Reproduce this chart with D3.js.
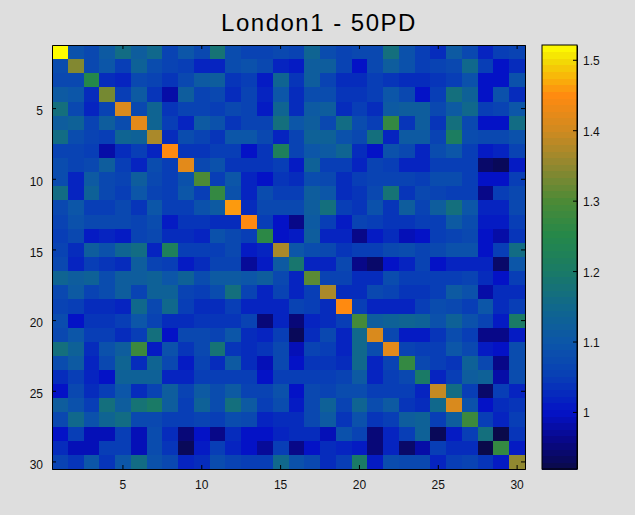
<!DOCTYPE html>
<html>
<head>
<meta charset="utf-8">
<script src="https://cdn.jsdelivr.net/npm/d3@7"></script>
<style>
html, body { margin: 0; padding: 0; background: #dedede; }
svg { display: block; }
</style>
</head>
<body>
<div id="my_dataviz"></div>
<script>
var titleText = "London1 - 50PD";
var indexLabels = d3.range(1, 31);
var axisTicks = [5, 10, 15, 20, 25, 30];
var barTicks = [1, 1.1, 1.2, 1.3, 1.4, 1.5];
var barRange = [0.919, 1.521];

// one row of the matrix per line
var matrix = [
[1.52,1.09,1.07,1.11,1.16,1.12,1.15,1.06,1.10,1.07,1.18,1.08,1.06,1.06,1.07,1.06,1.14,1.08,1.06,1.07,1.07,1.17,1.09,1.05,1.03,1.11,1.07,1.02,1.05,1.06],
[1.08,1.34,1.07,1.10,1.05,1.13,1.08,1.06,1.05,1.02,1.02,1.08,1.09,1.07,1.02,1.01,1.12,1.12,1.06,1.00,1.07,1.12,1.09,1.05,1.06,1.07,1.15,1.05,1.00,1.03],
[1.07,1.07,1.25,1.03,1.02,1.07,1.06,1.04,1.07,1.11,1.12,1.04,1.05,1.01,1.14,1.04,1.12,1.06,1.03,1.03,1.05,1.04,1.03,1.03,1.04,1.05,1.09,1.00,1.00,1.09],
[1.11,1.10,1.03,1.33,1.05,1.11,1.04,0.98,1.12,1.06,1.07,1.03,1.06,1.02,1.10,1.03,1.08,1.08,1.04,1.04,1.05,1.10,1.07,1.00,1.05,1.17,1.13,1.00,1.09,1.03],
[1.17,1.07,1.02,1.06,1.41,1.07,1.14,1.04,1.06,1.06,1.05,1.07,1.06,1.01,1.14,1.03,1.11,1.12,1.03,1.05,1.03,1.11,1.12,1.12,1.07,1.11,1.15,1.05,1.06,1.10],
[1.12,1.13,1.06,1.12,1.08,1.42,1.14,1.05,1.02,1.11,1.09,1.04,1.06,1.06,1.17,1.10,1.12,1.07,1.16,1.08,1.05,1.27,1.04,1.12,1.04,1.17,1.07,1.00,1.00,1.16],
[1.16,1.08,1.06,1.05,1.14,1.13,1.37,1.03,1.08,1.06,1.04,1.10,1.10,1.07,1.02,1.06,1.13,1.13,1.09,1.07,1.17,1.02,1.11,1.11,1.06,1.21,1.08,1.07,1.07,1.09],
[1.06,1.06,1.05,0.98,1.03,1.05,1.02,1.45,1.04,1.04,1.05,1.05,1.00,1.04,1.22,1.06,1.10,1.11,1.14,1.03,1.00,1.09,1.07,1.02,1.08,1.10,1.05,1.01,1.02,1.06],
[1.08,1.06,1.07,1.12,1.05,1.02,1.08,1.05,1.42,1.07,1.09,1.04,1.04,1.04,1.05,1.01,1.13,1.05,1.05,1.02,1.06,1.05,1.02,1.02,1.05,1.05,1.05,0.94,0.93,1.01],
[1.08,1.02,1.11,1.07,1.06,1.12,1.07,1.05,1.09,1.30,1.05,1.10,1.02,1.00,1.04,1.03,1.08,1.07,1.03,1.05,1.06,1.06,1.06,1.05,1.08,1.08,1.05,1.00,1.00,1.05],
[1.16,1.02,1.13,1.07,1.05,1.10,1.06,1.05,1.10,1.05,1.27,1.09,1.02,1.08,1.05,1.05,1.12,1.10,1.03,1.04,1.07,1.18,1.04,1.07,1.06,1.05,1.05,0.96,1.05,1.07],
[1.07,1.10,1.05,1.05,1.07,1.04,1.10,1.05,1.05,1.09,1.11,1.46,1.03,1.07,1.07,1.07,1.12,1.17,1.05,1.04,1.09,1.04,1.12,1.06,1.12,1.17,1.10,1.02,1.02,1.07],
[1.06,1.09,1.07,1.07,1.07,1.06,1.08,1.01,1.04,1.04,1.03,1.03,1.45,1.05,1.00,0.96,1.11,1.05,1.01,1.06,1.05,1.04,1.04,1.05,1.05,1.11,1.08,1.01,1.01,1.05],
[1.05,1.07,1.01,1.02,1.01,1.06,1.07,1.03,1.03,1.02,1.09,1.07,1.05,1.26,1.00,1.01,1.12,1.02,1.02,0.96,1.01,1.03,0.99,1.00,1.05,1.06,1.07,1.00,0.98,1.04],
[1.06,1.03,1.12,1.09,1.14,1.16,1.02,1.22,1.05,1.05,1.05,1.07,1.01,1.02,1.37,1.10,1.08,1.07,1.04,1.05,1.05,1.07,1.08,1.06,1.07,1.09,1.09,1.00,1.05,1.16],
[1.07,1.02,1.05,1.04,1.03,1.12,1.06,1.05,1.01,1.03,1.06,1.06,0.97,1.01,1.11,1.19,1.02,1.02,1.07,0.96,0.94,1.00,1.02,1.06,1.00,1.02,1.02,1.02,0.94,1.10],
[1.14,1.12,1.13,1.08,1.12,1.12,1.13,1.10,1.13,1.08,1.11,1.11,1.10,1.12,1.07,1.02,1.31,1.06,1.06,1.03,1.03,1.08,1.05,1.05,1.05,1.05,1.06,1.03,1.00,1.05],
[1.07,1.11,1.06,1.08,1.12,1.06,1.13,1.13,1.06,1.05,1.08,1.17,1.06,1.02,1.06,1.02,1.05,1.37,1.03,1.03,1.07,1.06,1.04,1.04,1.05,1.11,1.09,0.98,1.03,1.03],
[1.06,1.05,1.03,1.03,1.02,1.15,1.07,1.15,1.05,1.03,1.03,1.05,1.02,1.02,1.02,1.06,1.05,1.03,1.45,1.05,1.02,1.02,1.02,1.05,1.08,1.07,1.05,1.10,1.03,1.05],
[1.08,1.00,1.04,1.04,1.05,1.10,1.06,1.03,1.03,1.04,1.04,1.04,1.06,0.95,1.02,0.95,1.02,1.03,1.05,1.29,1.12,1.13,1.14,1.13,1.09,1.13,1.09,1.06,1.01,1.20],
[1.07,1.10,1.05,1.05,1.03,1.05,1.17,1.00,1.07,1.07,1.06,1.10,1.03,1.02,1.05,0.93,1.03,1.07,1.02,1.15,1.41,1.07,1.01,1.01,1.04,1.08,1.05,0.96,0.96,1.01],
[1.17,1.13,1.03,1.09,1.12,1.28,1.01,1.09,1.04,1.07,1.18,1.04,1.03,1.04,1.07,0.99,1.06,1.05,1.02,1.15,1.08,1.42,1.06,1.05,1.05,1.10,1.07,1.01,1.00,1.08],
[1.08,1.11,1.02,1.07,1.14,1.03,1.14,1.07,1.01,1.06,1.03,1.11,1.03,0.99,1.07,1.00,1.04,1.04,1.03,1.15,1.02,1.06,1.27,1.07,1.05,1.04,1.13,1.07,0.96,1.08],
[1.03,1.05,1.02,1.00,1.13,1.13,1.13,1.02,1.02,1.05,1.05,1.05,1.05,1.00,1.05,1.05,1.05,1.05,1.06,1.11,1.02,1.05,1.07,1.20,1.02,1.05,1.12,1.13,0.98,1.08],
[1.00,1.07,1.03,1.05,1.10,1.03,1.06,1.12,1.06,1.11,1.08,1.11,1.06,1.06,1.09,1.00,1.07,1.06,1.08,1.08,1.05,1.05,1.05,1.02,1.39,1.16,1.05,0.94,1.05,1.02],
[1.12,1.09,1.05,1.17,1.12,1.18,1.20,1.12,1.05,1.13,1.08,1.17,1.11,1.05,1.08,1.01,1.07,1.13,1.06,1.14,1.08,1.11,1.04,1.03,1.15,1.41,1.09,1.00,1.03,1.04],
[1.07,1.15,1.09,1.14,1.16,1.07,1.07,1.05,1.05,1.06,1.05,1.08,1.07,1.02,1.03,1.03,1.07,1.11,1.04,1.09,1.04,1.05,1.12,1.13,1.05,1.12,1.28,1.05,1.02,1.05],
[1.00,1.05,0.99,0.99,1.05,0.99,1.08,1.03,0.95,1.00,0.96,1.03,1.00,1.00,1.02,1.03,1.03,0.99,1.09,1.06,0.95,1.02,1.05,1.13,0.93,1.01,1.05,1.17,0.92,1.04],
[1.03,0.99,0.99,1.05,1.05,0.99,1.08,1.04,0.93,1.01,1.05,1.02,1.00,0.97,1.05,0.96,1.00,1.03,1.02,1.01,0.95,1.02,0.94,0.98,1.05,1.03,1.03,0.92,1.27,1.01],
[1.06,1.04,1.10,1.04,1.10,1.16,1.09,1.07,1.02,1.03,1.08,1.06,1.05,1.05,1.15,1.09,1.07,1.03,1.05,1.20,1.01,1.08,1.07,1.07,1.02,1.05,1.06,1.04,1.01,1.35]
];

// set the dimensions of the figure
var width = 635, height = 515;
var plot = {left: 52, right: 525, top: 45, bottom: 469};
var bar = {left: 542, right: 577};

var svg = d3.select("#my_dataviz")
  .append("svg")
  .attr("width", width)
  .attr("height", height);

var color = d3.scaleLinear()
  .domain([0.919, 0.96, 1.0, 1.05, 1.1, 1.15, 1.2, 1.25, 1.3, 1.35, 1.4, 1.45, 1.5, 1.521])
  .range(["#0a0a48", "#080888", "#0412c6", "#083eb6", "#0c56a8", "#10688c", "#1a7a66", "#24884a", "#4c8a36", "#908830", "#d08a20", "#ff8a10", "#f2dc04", "#ffff00"]);

var x = d3.scaleBand().domain(indexLabels).range([plot.left, plot.right]);
var y = d3.scaleBand().domain(indexLabels).range([plot.top, plot.bottom]);

// heatmap cells
svg.append("g")
  .attr("shape-rendering", "crispEdges")
  .selectAll("g")
  .data(matrix)
  .enter().append("g")
  .each(function(row, i) {
    d3.select(this).selectAll("rect")
      .data(row)
      .enter().append("rect")
      .attr("x", function(d, j) { return x(indexLabels[j]); })
      .attr("y", y(indexLabels[i]))
      .attr("width", x.bandwidth() + 0.5)
      .attr("height", y.bandwidth() + 0.5)
      .attr("fill", function(d) { return color(d); });
  });

function styleAxis(g) {
  g.attr("font-family", "'Liberation Sans', Arial, sans-serif");
  g.selectAll("path").attr("stroke", "#000").attr("stroke-width", 1);
  g.selectAll("line").attr("stroke", "#000").attr("stroke-width", 1);
  g.selectAll("text").attr("fill", "#111").style("font-size", "12px");
}

// ticks point inward on all four sides, labels only bottom and left
svg.append("g")
  .attr("transform", "translate(0," + plot.bottom + ")")
  .call(d3.axisBottom(x).tickValues(axisTicks).tickSizeInner(-4).tickSizeOuter(0).tickPadding(11))
  .call(styleAxis);
svg.append("g")
  .attr("transform", "translate(0," + plot.top + ")")
  .call(d3.axisTop(x).tickValues(axisTicks).tickSizeInner(-4).tickSizeOuter(0).tickFormat(""))
  .call(styleAxis);
svg.append("g")
  .attr("transform", "translate(" + plot.left + ",0)")
  .call(d3.axisLeft(y).tickValues(axisTicks).tickSizeInner(-4).tickSizeOuter(0).tickPadding(9))
  .call(styleAxis)
  .selectAll("text").attr("dy", "0.55em");
svg.append("g")
  .attr("transform", "translate(" + plot.right + ",0)")
  .call(d3.axisRight(y).tickValues(axisTicks).tickSizeInner(-4).tickSizeOuter(0).tickFormat(""))
  .call(styleAxis);

// colorbar, 64 levels like the image colormap
var yBar = d3.scaleLinear().domain(barRange).range([plot.bottom, plot.top]);
var levels = d3.range(64);
var levelHeight = (plot.bottom - plot.top) / levels.length;
svg.append("g")
  .attr("shape-rendering", "crispEdges")
  .selectAll("rect")
  .data(levels)
  .enter().append("rect")
  .attr("x", bar.left)
  .attr("width", bar.right - bar.left)
  .attr("y", function(d) { return plot.bottom - (d + 1) * levelHeight; })
  .attr("height", levelHeight + 0.5)
  .attr("fill", function(d) { return color(barRange[0] + (d + 0.5) / levels.length * (barRange[1] - barRange[0])); });

svg.append("g")
  .attr("transform", "translate(" + bar.right + ",0)")
  .call(d3.axisRight(yBar).tickValues(barTicks).tickSizeInner(-4).tickSizeOuter(0).tickPadding(6)
    .tickFormat(function(d) { return d3.format("")(d); }))
  .call(styleAxis)
  .selectAll("text").attr("dy", "0.42em");
svg.append("rect")
  .attr("x", bar.left).attr("y", plot.top)
  .attr("width", bar.right - bar.left).attr("height", plot.bottom - plot.top)
  .attr("fill", "none").attr("stroke", "#000");

// Add Chart title
svg.append("text")
  .attr("x", 319)
  .attr("y", 31)
  .attr("text-anchor", "middle")
  .style("font-family", "'Liberation Sans', Arial, sans-serif")
  .style("font-size", "24px")
  .style("letter-spacing", "1.5px")
  .attr("fill", "#000")
  .text(titleText);
</script>
</body>
</html>
